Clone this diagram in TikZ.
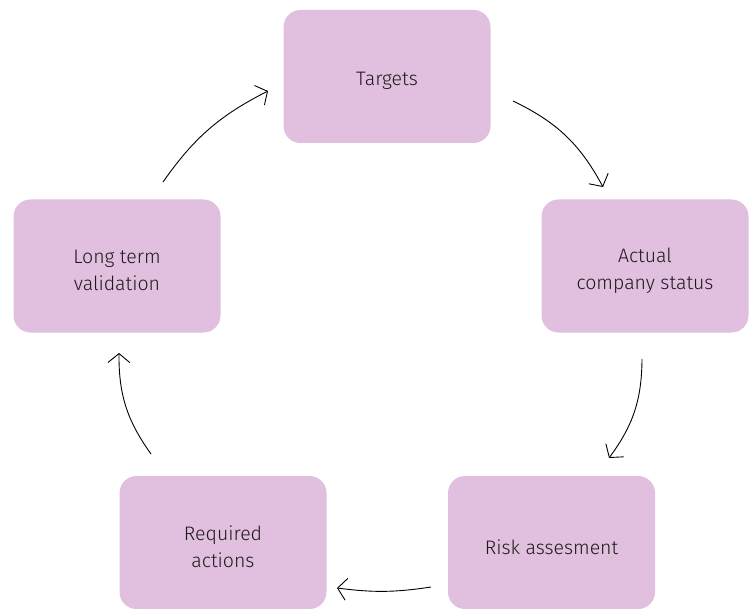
\documentclass[tikz,border=0pt]{standalone}
\usepackage{fontspec}
\setmainfont{Fira Sans}[UprightFont=* Light]
\usetikzlibrary{arrows.meta}
\definecolor{boxfill}{HTML}{E1BFDE}
\definecolor{txt}{HTML}{1E1A1C}
\tikzset{
  stage/.style={draw=none, fill=boxfill, rounded corners=17pt, minimum width=207pt, minimum height=133pt,
    inner sep=0pt},
  stagetext/.style={inner sep=0pt, align=center, text=txt, font=\fontsize{19.5}{27}\selectfont, yshift=-4.5pt},
  flow/.style={draw=black, line width=0.9pt, -{Straight Barb[length=9pt,width=22pt,line width=0.9pt]}}
}
\begin{document}
\begin{tikzpicture}[x=1pt,y=-1pt]
\useasboundingbox (0,0) rectangle (754,609);
\node[stage, label={[stagetext]center:Targets}] (t) at (387,76.5) {};
\node[stage, label={[stagetext]center:Actual\\company status}] (a) at (645,266) {};
\node[stage, label={[stagetext]center:Risk assesment}] (r) at (551.5,542.5) {};
\node[stage, label={[stagetext]center:Required\\actions}] (q) at (223,542.5) {};
\node[stage, label={[stagetext]center:Long term\\validation}] (l) at (117,266) {};
\coordinate (t1) at (513,101);
\coordinate (a0) at (603,187);
\coordinate (a1) at (642,359);
\coordinate (r0) at (609,458);
\coordinate (r1) at (431,587);
\coordinate (q0) at (337,588);
\coordinate (q1) at (151,454);
\coordinate (l0) at (119,353);
\coordinate (l1) at (163,182);
\coordinate (t0) at (268,91);
\draw[flow] (t1) to[bend left=18] (a0);
\draw[flow] (a1) to[bend left=18] (r0);
\draw[flow] (r1) to[bend left=8] (q0);
\draw[flow] (q1) to[bend left=18] (l0);
\draw[flow] (l1) to[bend left=14] (t0);
\end{tikzpicture}
\end{document}
